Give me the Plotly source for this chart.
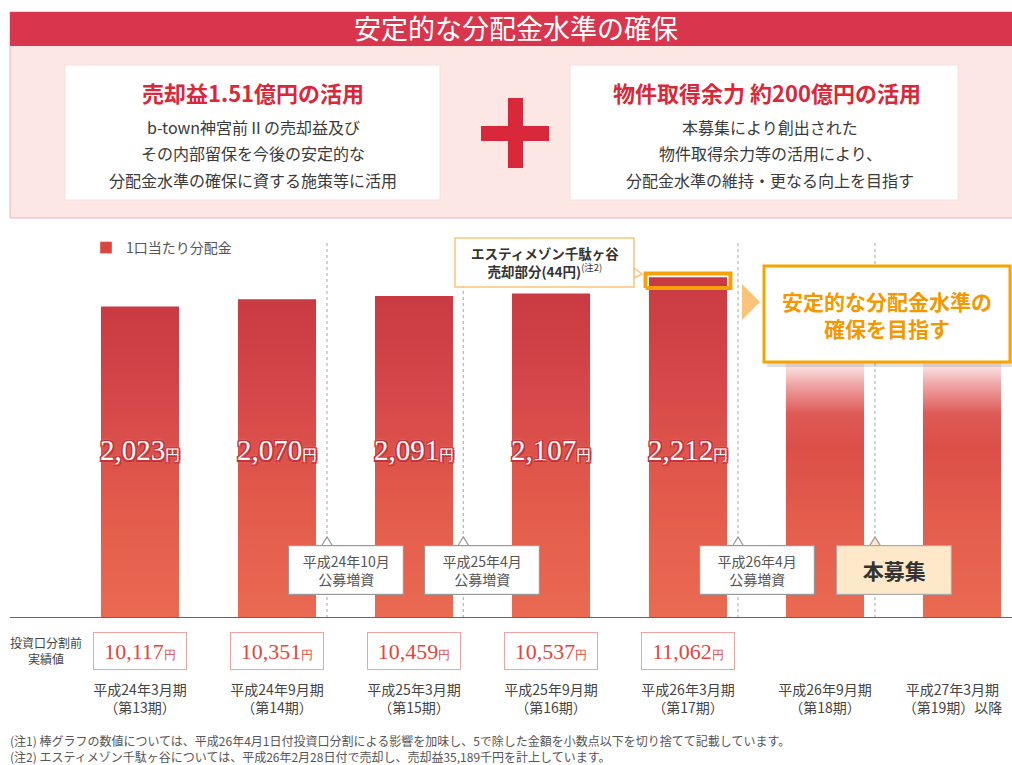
import plotly.graph_objects as go

W, H = 1012, 765

# --- データ ---
periods = ['平成24年3月期<br>（第13期）', '平成24年9月期<br>（第14期）', '平成25年3月期<br>（第15期）',
           '平成25年9月期<br>（第16期）', '平成26年3月期<br>（第17期）', '平成26年9月期<br>（第18期）',
           '平成27年3月期<br>（第19期）以降']
dist = [2023, 2070, 2091, 2107, 2212]            # 1口当たり分配金（分割考慮後）
pre_split = [10117, 10351, 10459, 10537, 11062]  # 投資口分割前実績値
target = [2212, 2212]                            # 第18期・第19期以降（目標）
sold_part = 44                                   # エスティメゾン千駄ヶ谷 売却部分（第17期）
events = [1.365, 2.36, 4.365, 5.365]             # 公募増資・本募集のタイミング
event_text = ['平成24年10月<br>公募増資', '平成25年4月<br>公募増資', '平成26年4月<br>公募増資', '<b>本募集</b>']


def X(p):
    return p / W


def Y(p):
    return 1 - p / H


def txt(x, y, text, size, color, xref='paper', **kw):
    d = dict(x=x, y=y, xref=xref, yref='paper', showarrow=False, text=text,
             xanchor='center', yanchor='middle', font=dict(size=size, color=color))
    d.update(kw)
    return d


BAR_HW = 0.285
bar_scale = [[0, '#ea6a52'], [0.35, '#e35b4b'], [0.7, '#d5474a'], [1, '#c93a42']]
fade_scale = [[0, '#ea6a52'], [0.3, '#e35c4c'], [0.5, '#dc4f48'], [0.6, '#de5a57'],
              [0.68, '#eea0a0'], [0.74, '#fbe3e3'], [0.78, '#ffffff'], [1, '#ffffff']]

fig = go.Figure()

# 凡例用
fig.add_trace(go.Bar(x=[None], y=[None], name='1口当たり分配金', marker_color='#d9453f', showlegend=True))

# 公募増資の点線
for e in events:
    fig.add_trace(go.Scatter(x=[e, e], y=[0, 2450], mode='lines', showlegend=False, hoverinfo='skip',
                             line=dict(color='#b5b5b5', width=1.2, dash='dot')))

# 実績の棒
for i, v in enumerate(dist):
    fig.add_trace(go.Scatter(
        x=[i - BAR_HW, i + BAR_HW, i + BAR_HW, i - BAR_HW, i - BAR_HW],
        y=[0, 0, v, v, 0], fill='toself', mode='none', showlegend=False, hoverinfo='skip',
        fillgradient=dict(type='vertical', colorscale=bar_scale)))

# 目標の棒（フェード）
for j, v in enumerate(target):
    i = len(dist) + j
    fig.add_trace(go.Scatter(
        x=[i - BAR_HW, i + BAR_HW, i + BAR_HW, i - BAR_HW, i - BAR_HW],
        y=[0, 0, v, v, 0], fill='toself', mode='none', showlegend=False, hoverinfo='skip',
        fillgradient=dict(type='vertical', colorscale=fade_scale)))

# 売却部分のハイライト
k = len(dist) - 1
top = dist[k]
fig.add_trace(go.Scatter(
    x=[k - 0.31, k + 0.31, k + 0.31, k - 0.31, k - 0.31],
    y=[top - sold_part - 25, top - sold_part - 25, top + 25, top + 25, top - sold_part - 25],
    mode='lines', line=dict(color='#f5a20a', width=4), showlegend=False, hoverinfo='skip'))

shapes = []
ann = []

# 上部パネル
shapes.append(dict(type='rect', xref='paper', yref='paper', x0=X(10), x1=X(1020), y0=Y(218), y1=Y(12),
                   fillcolor='#fde7e4', line=dict(color='#f2b3b3', width=1)))
shapes.append(dict(type='rect', xref='paper', yref='paper', x0=X(10), x1=X(1020), y0=Y(46), y1=Y(12),
                   fillcolor='#d9354c', line=dict(width=0)))
for a, b in [(65, 440), (570, 958)]:
    shapes.append(dict(type='rect', xref='paper', yref='paper', x0=X(a), x1=X(b), y0=Y(200), y1=Y(65),
                       fillcolor='white', line=dict(color='#f6dede', width=1)))
shapes.append(dict(type='rect', xref='paper', yref='paper', x0=X(481), x1=X(549), y0=Y(141), y1=Y(126),
                   fillcolor='#d8283a', line=dict(width=0)))
shapes.append(dict(type='rect', xref='paper', yref='paper', x0=X(508), x1=X(523), y0=Y(168), y1=Y(98),
                   fillcolor='#d8283a', line=dict(width=0)))

ann.append(txt(X(516), Y(28), '安定的な分配金水準の確保', 27, 'white'))
ann.append(txt(X(253), Y(92), '<b>売却益1.51億円の活用</b>', 22, '#d8283a'))
ann.append(txt(X(767), Y(92), '<b>物件取得余力 約200億円の活用</b>', 22, '#d8283a'))
left_lines = ['b-town神宮前Ⅱの売却益及び', 'その内部留保を今後の安定的な', '分配金水準の確保に資する施策等に活用']
right_lines = ['本募集により創出された', '物件取得余力等の活用により、', '分配金水準の維持・更なる向上を目指す']
for n, (lt, rt) in enumerate(zip(left_lines, right_lines)):
    yy = Y(127 + 26.5 * n)
    ann.append(txt(X(253), yy, lt, 16, '#3a3a3a'))
    ann.append(txt(X(770), yy, rt, 16, '#3a3a3a'))

# 分配金ラベル
for i, v in enumerate(dist):
    t = txt(i, Y(450), f'{v:,}<span style="font-size:15px">円</span>', 29, 'white', xref='x')
    t['font'].update(family='Liberation Serif',
                     shadow='1.5px 1.5px 0 #c33238, -1.5px -1.5px 0 #c33238, 1.5px -1.5px 0 #c33238, '
                            '-1.5px 1.5px 0 #c33238, 0 0 3px #f6c9c6')
    ann.append(t)

# 分割前実績値
for i, v in enumerate(pre_split):
    t = txt(i, Y(651), f'{v:,}<span style="font-size:12px">円</span>', 22, '#e2463c', xref='x',
            width=90, height=34, bgcolor='white', bordercolor='#f2a3a0', borderwidth=1, borderpad=1)
    t['font']['family'] = 'Liberation Serif'
    ann.append(t)
ann.append(txt(X(46), Y(650), '投資口分割前<br>実績値', 12, '#444'))

# 公募増資の吹き出し
for n, (e, t) in enumerate(zip(events, event_text)):
    last = n == len(events) - 1
    cx = e + 0.135
    shapes.append(dict(type='path', xref='x', yref='paper',
                       path=f'M {e - 0.045} {Y(547)} L {e} {Y(537)} L {e + 0.045} {Y(547)} Z',
                       fillcolor='#fde9c9' if last else 'white', line=dict(color='#999', width=1.2)))
    ann.append(txt(cx, Y(570), t, 21 if last else 14, '#333' if last else '#555', xref='x',
                   width=114, height=48, borderpad=0, borderwidth=1.2,
                   bordercolor='#aaa' if last else '#999', bgcolor='#fde9c9' if last else 'white'))

# エスティメゾン千駄ヶ谷 吹き出し
shapes.append(dict(type='path', xref='paper', yref='paper',
                   path=f'M {X(634)} {Y(268)} L {X(642)} {Y(274)} L {X(634)} {Y(278)} Z',
                   fillcolor='white', line=dict(color='#f8c57c', width=1.5)))
shapes.append(dict(type='rect', xref='paper', yref='paper', x0=X(455), x1=X(634), y0=Y(287), y1=Y(238),
                   fillcolor='white', line=dict(color='#f8c57c', width=1.5)))
ann.append(txt(X(545), Y(262), '<b>エスティメゾン千駄ヶ谷<br>売却部分(44円)</b><sup>(注2)</sup>', 13.5, '#333'))

# 目標ボックス
shapes.append(dict(type='path', xref='paper', yref='paper',
                   path=f'M {X(742)} {Y(284)} L {X(760)} {Y(302)} L {X(742)} {Y(320)} Z',
                   fillcolor='#f9c37a', line=dict(width=0)))
shapes.append(dict(type='rect', xref='paper', yref='paper', x0=X(767), x1=X(1014), y0=Y(367), y1=Y(270),
                   fillcolor='rgba(0,0,0,0.12)', line=dict(width=0)))
shapes.append(dict(type='rect', xref='paper', yref='paper', x0=X(764), x1=X(1010), y0=Y(362), y1=Y(266),
                   fillcolor='white', line=dict(color='#f7a400', width=3)))
ann.append(txt(X(887), Y(314), '<b>安定的な分配金水準の<br>確保を目指す</b>', 21, '#f39800'))

# 基準線
shapes.append(dict(type='line', xref='paper', yref='y', x0=X(10), x1=1, y0=0, y1=0,
                   line=dict(color='#666', width=2)))

# 注記
ann.append(txt(X(8), Y(740), '(注1) 棒グラフの数値については、平成26年4月1日付投資口分割による影響を加味し、5で除した金額を小数点以下を切り捨てて記載しています。',
               12, '#555', xanchor='left'))
ann.append(txt(X(8), Y(756), '(注2) エスティメゾン千駄ヶ谷については、平成26年2月28日付で売却し、売却益35,189千円を計上しています。',
               12, '#555', xanchor='left'))

# 最後のラベルは右端に収まるよう少し左へ
tick_pos = list(range(len(periods) - 1)) + [len(periods) - 1.07]

fig.update_layout(
    width=W, height=H,
    margin=dict(l=0, r=0, t=0, b=0),
    paper_bgcolor='white', plot_bgcolor='white',
    font=dict(family='Noto Sans CJK JP', color='#444'),
    shapes=shapes, annotations=ann,
    showlegend=True,
    legend=dict(x=X(86), y=Y(232), xanchor='left', yanchor='top', bgcolor='rgba(0,0,0,0)',
                font=dict(size=14, color='#555')),
    xaxis=dict(range=[-140 / 137, -140 / 137 + W / 137], tickvals=tick_pos,
               ticktext=periods, showgrid=False, zeroline=False, showline=False, ticks='',
               ticklabelstandoff=62, tickfont=dict(size=14, color='#444'), fixedrange=True),
    yaxis=dict(range=[0, 388 / 0.154], domain=[Y(618), Y(230)], showgrid=False, zeroline=False,
               showticklabels=False, fixedrange=True),
)

fig.write_html("out.html", config={'displayModeBar': False},
               post_script="document.body.style.margin='0';document.body.style.overflow='hidden';")
